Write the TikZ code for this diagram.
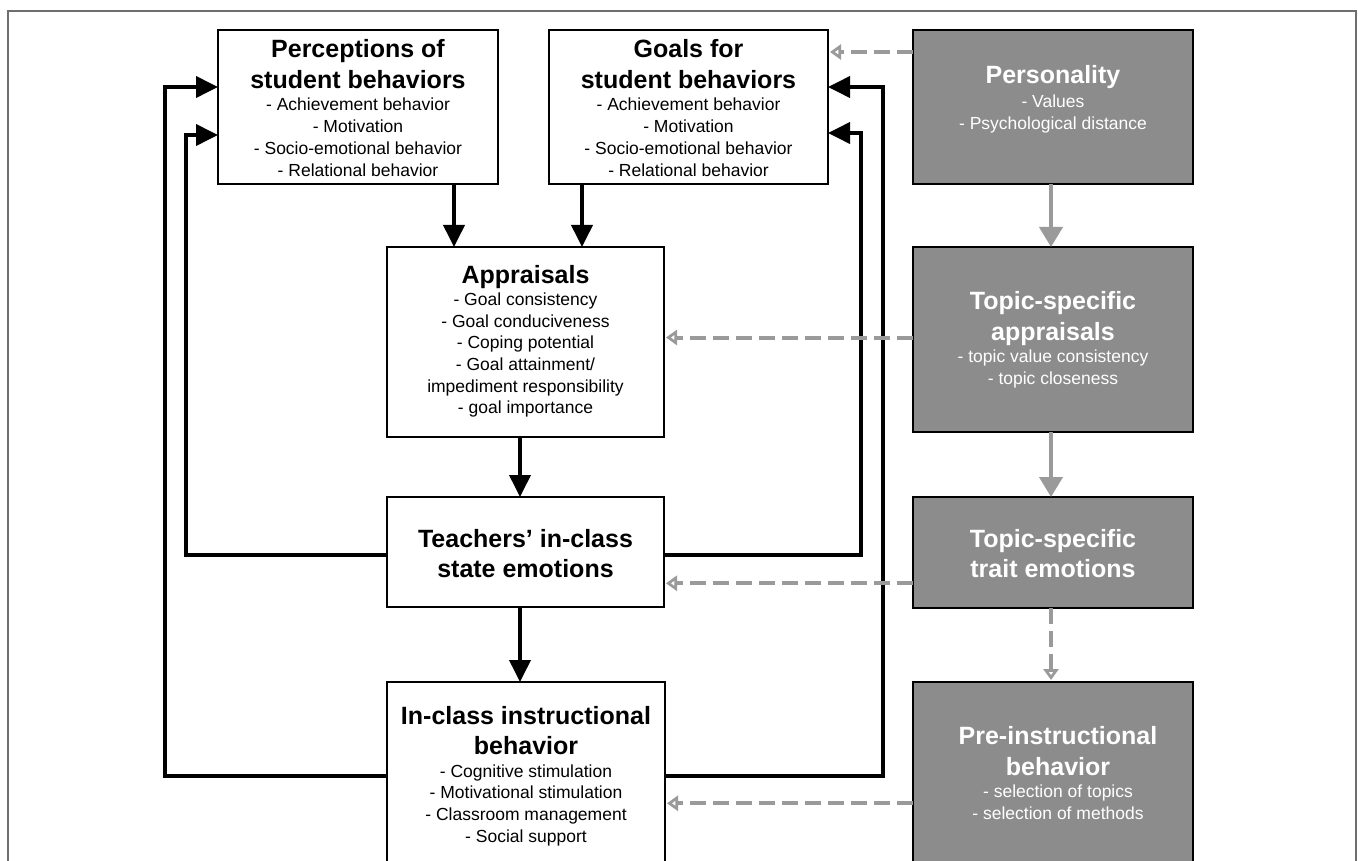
\documentclass[tikz,border=0pt]{standalone}
\usepackage{fontspec}
\setmainfont{Liberation Sans}
\usetikzlibrary{arrows.meta}
\definecolor{boxgray}{HTML}{8C8C8C}
\definecolor{arrgray}{HTML}{9A9A9A}
\definecolor{framegray}{HTML}{6E6E6E}
\newcommand\bodyfont{\fontsize{17.5}{21.7}\selectfont\lineskiplimit=-100pt\relax}
\newcommand\ttl[1]{{\fontsize{25}{31}\selectfont\bfseries #1}}
\begin{document}
\begin{tikzpicture}[x=1pt,y=-1pt,
  wbox/.style={draw=black, line width=2pt, fill=white, inner sep=0pt, outer sep=0pt},
  gbox/.style={draw=black, line width=2pt, fill=boxgray, inner sep=0pt, outer sep=0pt},
  txt/.style={align=center, inner sep=0pt, anchor=north, font=\bodyfont},
  wtxt/.style={txt, text=white},
  barr/.style={draw=black, line width=3.8pt, -{Triangle[length=22pt, width=21pt]}},
  garr/.style={draw=arrgray, line width=4pt, -{Triangle[length=20pt, width=23pt]}},
  gdash/.style={draw=arrgray, line width=4pt, dash pattern=on 16pt off 7pt,
    -{Triangle[open, length=11pt, width=15pt, line width=3pt]}, shorten >=2pt}
]
\useasboundingbox (0,0) rectangle (1358,861);
\clip (0,0) rectangle (1358,861);
\fill[white] (0,0) rectangle (1358,861);
% frame
\draw[framegray, line width=2pt] (8,920) -- (8,11) -- (1356,11) -- (1356,920);

% boxes
\node[wbox, minimum width=280pt, minimum height=154pt] (P) at (358,107) {};
\node[wbox, minimum width=279pt, minimum height=154pt] (G) at (688.5,107) {};
\node[gbox, minimum width=280pt, minimum height=154pt] (Pers) at (1053,107) {};
\node[wbox, minimum width=277pt, minimum height=190pt] (A) at (525.5,342) {};
\node[gbox, minimum width=280pt, minimum height=185pt] (TSA) at (1053,339.5) {};
\node[wbox, minimum width=277pt, minimum height=110pt] (T) at (525.5,552) {};
\node[gbox, minimum width=280pt, minimum height=111pt] (TSE) at (1053,552.5) {};
\node[wbox, minimum width=278pt, minimum height=218pt] (I) at (526,791) {};
\node[gbox, minimum width=280pt, minimum height=218pt] (PIB) at (1053,791) {};

% texts
\node[txt] (Ptxt) at (358,39.3) {\ttl{Perceptions of}\\[9.3pt]\ttl{student behaviors}\\[0.6pt]- Achievement behavior\\- Motivation\\- Socio-emotional behavior\\- Relational behavior};
\node[txt] (Gtxt) at (688.5,39.3) {\ttl{Goals for}\\[9.3pt]\ttl{student behaviors}\\[0.6pt]- Achievement behavior\\- Motivation\\- Socio-emotional behavior\\- Relational behavior};
\node[wtxt] (Perstxt) at (1053,65.3) {\ttl{Personality}\\[2pt]- Values\\- Psychological distance};
\node[txt] (Atxt) at (525.5,264.7) {\ttl{Appraisals}\\[0.6pt]- Goal consistency\\- Goal conduciveness\\- Coping potential\\- Goal attainment/\\impediment responsibility\\- goal importance};
\node[wtxt] (TSAtxt) at (1053,290.7) {\ttl{Topic-specific}\\[9.3pt]\ttl{appraisals}\\[0.6pt]- topic value consistency\\- topic closeness};
\node[txt] (Ttxt) at (525.5,528.7) {\ttl{Teachers’ in-class}\\[9pt]\ttl{state emotions}};
\node[wtxt] (TSEtxt) at (1053,528.7) {\ttl{Topic-specific}\\[9pt]\ttl{trait emotions}};
\node[txt] (Itxt) at (526,706) {\ttl{In-class instructional}\\[8.3pt]\ttl{behavior}\\[1pt]- Cognitive stimulation\\- Motivational stimulation\\- Classroom management\\- Social support};
\node[wtxt] (PIBtxt) at (1058,726) {\ttl{Pre-instructional}\\[9.3pt]\ttl{behavior}\\[0.6pt]- selection of topics\\- selection of methods};

% helper coordinates
\coordinate (xPA) at (454,0);
\coordinate (xGA) at (582,0);
\coordinate (xAT) at (520,0);
\coordinate (xR) at (1051,0);
\coordinate (yPG) at (0,52);
\coordinate (yA) at (0,337.5);
\coordinate (yT) at (0,583.3);
\coordinate (yI) at (0,803.3);
\coordinate (tl1) at (186,555);
\coordinate (tl2) at (186,135);
\coordinate (il1) at (165,776);
\coordinate (il2) at (165,87);
\coordinate (tr1) at (861,555);
\coordinate (tr2) at (861,133);
\coordinate (ir1) at (883,776);
\coordinate (ir2) at (883,87);

% black main arrows
\draw[barr] (P.south -| xPA) -- (A.north -| xPA);
\draw[barr] (G.south -| xGA) -- (A.north -| xGA);
\draw[barr] (A.south -| xAT) -- (T.north -| xAT);
\draw[barr] (T.south -| xAT) -- (I.north -| xAT);

% feedback loops
\draw[barr] (T.west |- tl1) -- (tl1) -- (tl2) -- (P.west |- tl2);
\draw[barr] (I.west |- il1) -- (il1) -- (il2) -- (P.west |- il2);
\draw[barr] (T.east |- tr1) -- (tr1) -- (tr2) -- (G.east |- tr2);
\draw[barr] (I.east |- ir1) -- (ir1) -- (ir2) -- (G.east |- ir2);

% gray solid arrows
\draw[garr] (Pers.south -| xR) -- (TSA.north -| xR);
\draw[garr] (TSA.south -| xR) -- (TSE.north -| xR);

% gray dashed arrows
\draw[gdash] (TSE.south -| xR) -- (PIB.north -| xR);
\draw[gdash] (Pers.west |- yPG) -- (G.east |- yPG);
\draw[gdash] (TSA.west |- yA) -- (A.east |- yA);
\draw[gdash] (TSE.west |- yT) -- (T.east |- yT);
\draw[gdash] (PIB.west |- yI) -- (I.east |- yI);
\end{tikzpicture}
\end{document}
